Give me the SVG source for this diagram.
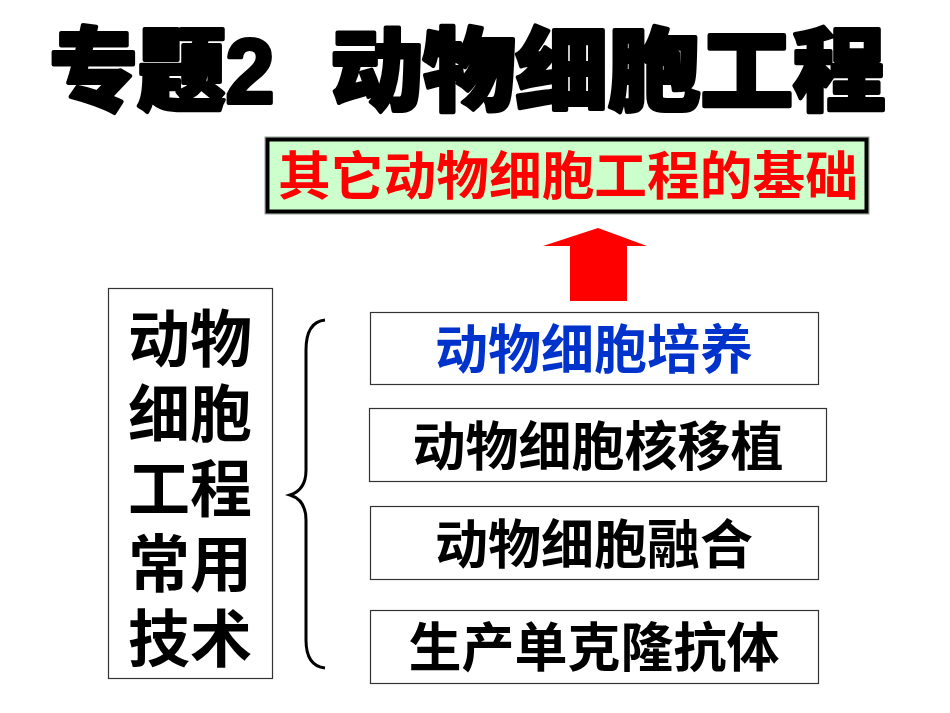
<svg xmlns="http://www.w3.org/2000/svg" width="950" height="713" viewBox="0 0 950 713">
<style>
text{font-family:"Liberation Sans","Noto Sans CJK SC",sans-serif;font-weight:bold;text-anchor:middle;dominant-baseline:central}
.title{font-size:90px;font-weight:900;fill:#000;stroke:#000;stroke-width:4;stroke-linejoin:round}
.box{fill:#fff;stroke:#333;stroke-width:1.2}
.t52{font-size:53px;fill:#000}
.left{font-size:62px;fill:#000}
</style>
<rect width="950" height="713" fill="#fff"/>
<g id="title">
<text class="title" x="162" y="72" textLength="225" lengthAdjust="spacingAndGlyphs">专题2</text>
<text class="title" x="608" y="72" textLength="555" lengthAdjust="spacingAndGlyphs">动物细胞工程</text>
</g>
<g id="top-box">
<rect x="265" y="137" width="604" height="77" fill="#ccffcc" stroke="#999" stroke-width="1"/>
<rect x="267.5" y="139.5" width="599" height="72" fill="none" stroke="#000" stroke-width="4"/>
<text x="568" y="177" font-size="52" fill="#ff0000" textLength="580" lengthAdjust="spacingAndGlyphs">其它动物细胞工程的基础</text>
</g>
<g id="connectors">
<polygon points="598,228 647,246 627,246 627,301 570,301 570,246 543,246" fill="#ff0000"/>
<path d="M325,320 Q306,322 306,350 L306,470 Q306,490 290,495 Q306,500 306,520 L306,640 Q306,666 325,668" fill="none" stroke="#000" stroke-width="3"/>
</g>
<g id="left-box">
<rect class="box" x="108.5" y="288.5" width="164" height="390"/>
<text class="left" x="190" y="340">动物</text>
<text class="left" x="190" y="415">细胞</text>
<text class="left" x="190" y="490">工程</text>
<text class="left" x="190" y="565">常用</text>
<text class="left" x="190" y="640">技术</text>
</g>
<g id="box1"><rect class="box" x="370.5" y="312.5" width="448" height="72"/><text class="t52" x="594" y="350" style="fill:#0033cc">动物细胞培养</text></g>
<g id="box2"><rect class="box" x="369.5" y="408.5" width="457" height="73"/><text class="t52" x="598" y="447">动物细胞核移植</text></g>
<g id="box3"><rect class="box" x="370.5" y="506.5" width="448" height="73"/><text class="t52" x="594" y="545">动物细胞融合</text></g>
<g id="box4"><rect class="box" x="370.5" y="610.5" width="448" height="73"/><text class="t52" x="594" y="648">生产单克隆抗体</text></g>
</svg>
